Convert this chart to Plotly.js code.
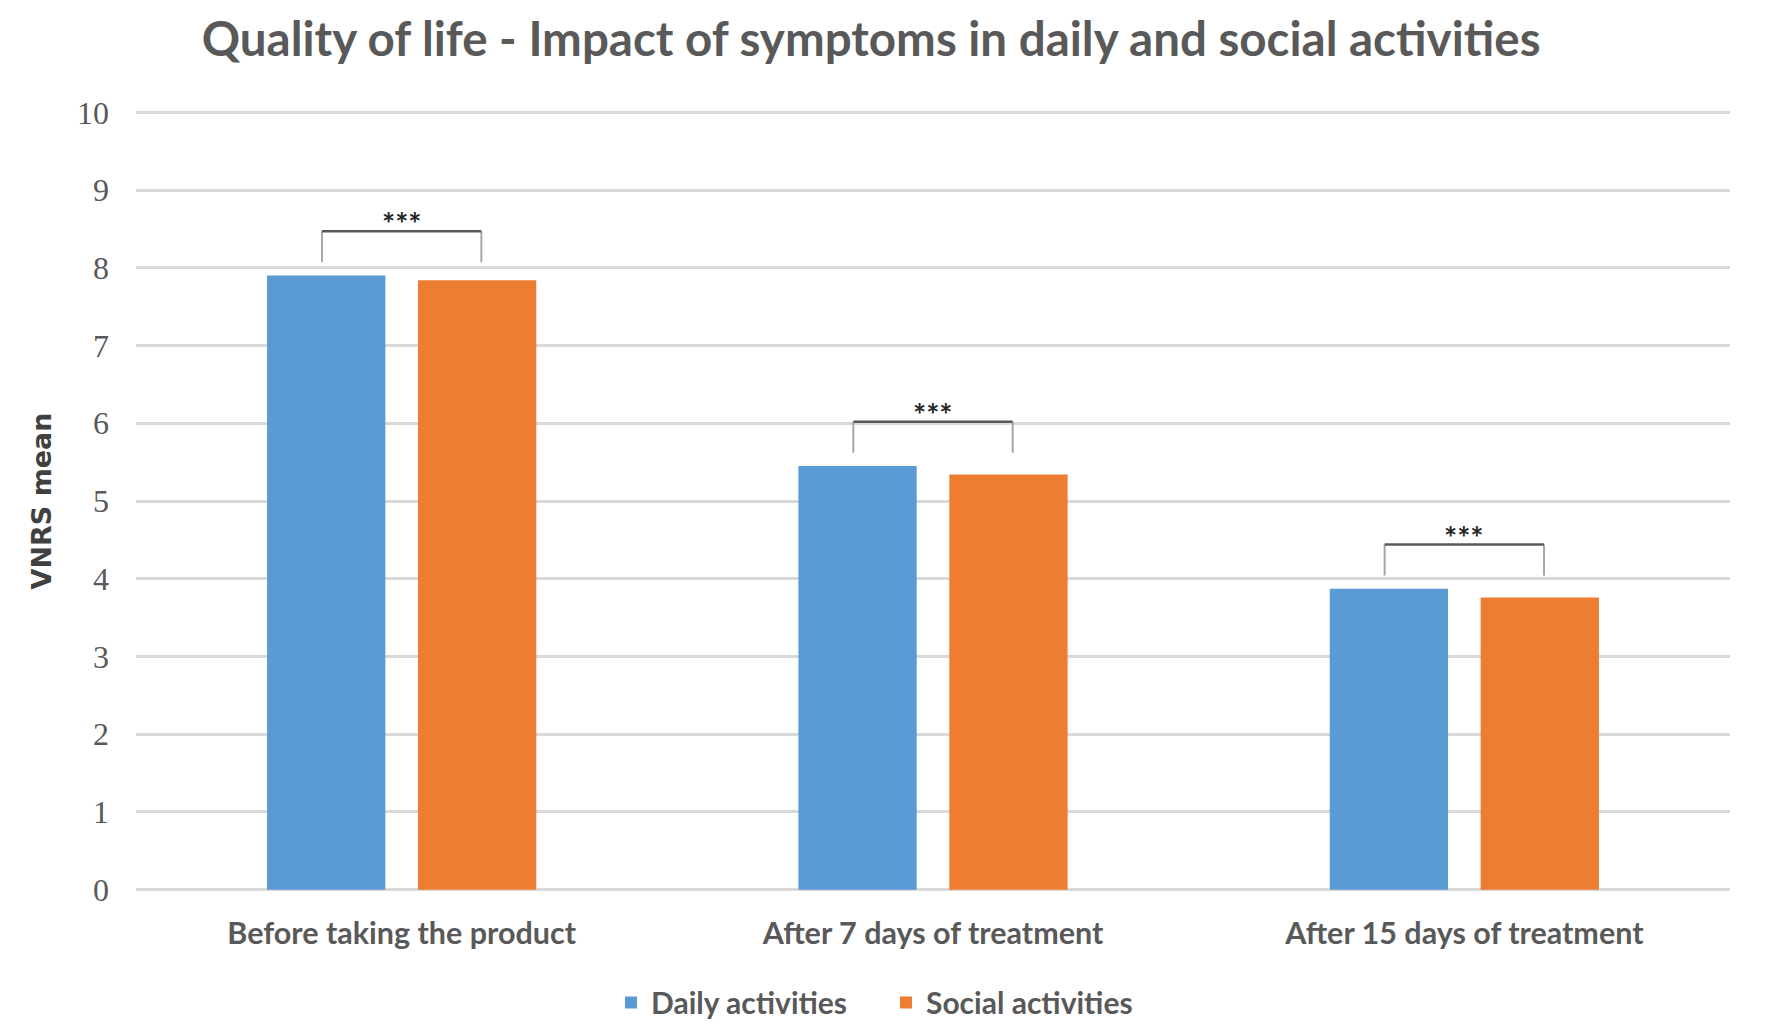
<!DOCTYPE html>
<html>
<head>
<meta charset="utf-8">
<script src="https://cdn.plot.ly/plotly-3.0.1.min.js"></script>
<style>html,body{margin:0;padding:0;background:#fff;}#chart{width:1772px;height:1035px;}</style>
</head>
<body>
<div id="chart"></div>
<script>
const categories = ["Before taking the product", "After 7 days of treatment", "After 15 days of treatment"];
const dailyActivities = [7.9, 5.45, 3.87];
const socialActivities = [7.84, 5.34, 3.76];
const significance = ["***", "***", "***"];
const yTicks = [0,1,2,3,4,5,6,7,8,9,10];

const traces = [
  {type:'bar', name:'Daily activities', x:categories, y:dailyActivities, marker:{color:'#5b9bd5'}, hoverinfo:'y'},
  {type:'bar', name:'Social activities', x:categories, y:socialActivities, marker:{color:'#ed7d31'}, hoverinfo:'y'}
];

const shapes = [];
const annotations = [];
categories.forEach((c,i)=>{
  const m = Math.max(dailyActivities[i], socialActivities[i]);
  const top = m + 0.57;
  const leg = m + 0.17;
  const x0 = i - 0.15, x1 = i + 0.15;
  shapes.push({type:'path', xref:'x', yref:'y',
    path:`M ${x0},${leg} L ${x0},${top}`, line:{color:'#a6a6a6', width:2}});
  shapes.push({type:'path', xref:'x', yref:'y',
    path:`M ${x1},${leg} L ${x1},${top}`, line:{color:'#a6a6a6', width:2}});
  shapes.push({type:'path', xref:'x', yref:'y',
    path:`M ${x0},${top} L ${x1},${top}`, line:{color:'#595959', width:2.5}});
  annotations.push({xref:'x', yref:'y', x:i, y:top, text:significance[i], showarrow:false,
    yanchor:'bottom', yshift:-13, font:{family:'Lato, sans-serif', size:31, color:'#262626', weight:700}});
});

const layout = {
  width:1772, height:1035,
  paper_bgcolor:'#fff', plot_bgcolor:'#fff',
  margin:{l:136, r:42, t:110, b:143, autoexpand:false},
  title:{text:'Quality of life - Impact of symptoms in daily and social activities',
    x:0.4916, xanchor:'center', y:0.962, yanchor:'middle',
    font:{family:'Lato, sans-serif', size:47.5, color:'#595959', weight:700}},
  barmode:'group', bargap:0.432, bargroupgap:0.216,
  xaxis:{type:'category', tickfont:{family:'Lato, sans-serif', size:30.5, color:'#595959', weight:700},
    showgrid:false, showline:false, ticks:'', ticklabelstandoff:20, zeroline:false},
  yaxis:{range:[-0.03,10.03], tickvals:yTicks, ticktext:yTicks.map(String),
    tickfont:{family:'Liberation Serif, serif', size:32, color:'#595959'},
    showgrid:true, gridcolor:'#d9d9d9', gridwidth:3, zeroline:false, showline:false, ticks:'',
    ticklabelstandoff:26,
    title:{text:'VNRS mean', standoff:17, font:{family:'DejaVu Sans, sans-serif', size:27, color:'#404040', weight:700}}},
  legend:{orientation:'h', x:0.4705, xanchor:'center', y:-0.1414, yanchor:'middle',
    font:{family:'Lato, sans-serif', size:30, color:'#595959', weight:700}, itemwidth:30, traceorder:'normal',
    entrywidth:230},
  shapes:shapes, annotations:annotations,
  showlegend:true
};
Plotly.newPlot('chart', traces, layout, {displayModeBar:false, staticPlot:true});
</script>
</body>
</html>
